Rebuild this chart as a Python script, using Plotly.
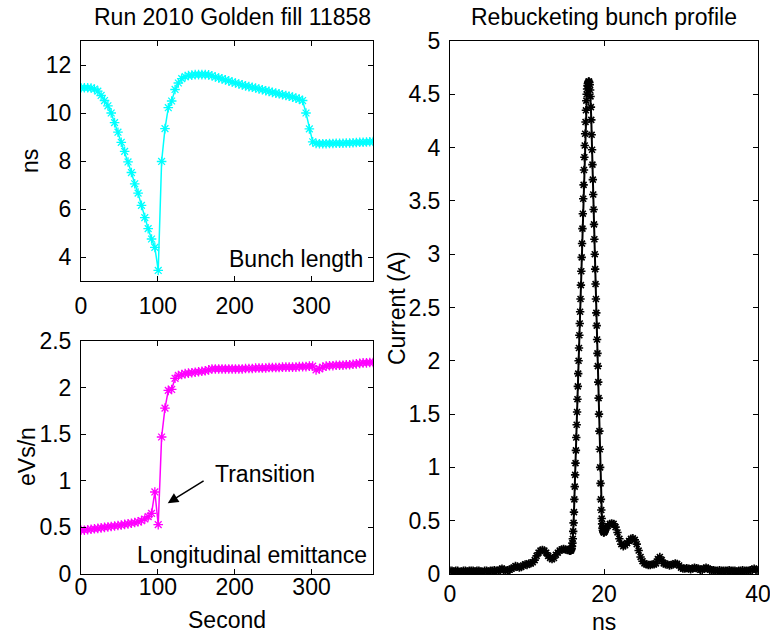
import plotly.graph_objects as go

# ---------------- data ----------------
time_s = [0.0, 4.4, 8.7, 13.1, 17.5, 21.9, 26.2, 30.6, 35.0, 39.3, 43.7, 48.1, 52.4, 56.8, 61.2,
          65.6, 69.9, 74.3, 78.7, 83.0, 87.4, 91.8, 96.1, 100.5, 104.9, 109.3, 113.6, 118.0,
          122.4, 126.7, 131.1, 135.5, 139.8, 144.2, 148.6, 153.0, 157.3, 161.7, 166.1, 170.4,
          174.8, 179.2, 183.5, 187.9, 192.3, 196.7, 201.0, 205.4, 209.8, 214.1, 218.5, 222.9,
          227.2, 231.6, 236.0, 240.4, 244.7, 249.1, 253.5, 257.8, 262.2, 266.6, 270.9, 275.3,
          279.7, 284.1, 288.4, 292.8, 297.2, 301.5, 305.9, 310.3, 314.6, 319.0, 323.4, 327.8,
          332.1, 336.5, 340.9, 345.2, 349.6, 354.0, 358.3, 362.7, 367.1, 371.5, 375.8, 380.2]

bunch_length_ns = [11.05, 11.05, 11.05, 11.04, 11.0, 10.91, 10.73, 10.52, 10.3, 10.0, 9.6, 9.2,
                   8.78, 8.4, 7.96, 7.52, 7.05, 6.66, 6.15, 5.64, 5.18, 4.75, 4.4, 3.44, 7.98,
                   9.35, 10.22, 10.5, 10.98, 11.25, 11.43, 11.52, 11.56, 11.58, 11.6, 11.6, 11.6,
                   11.6, 11.59, 11.55, 11.5, 11.46, 11.42, 11.38, 11.34, 11.29, 11.25, 11.21,
                   11.17, 11.13, 11.1, 11.07, 11.04, 11.0, 10.97, 10.93, 10.9, 10.86, 10.83, 10.8,
                   10.76, 10.73, 10.7, 10.66, 10.62, 10.58, 10.52, 10.0, 9.34, 8.8, 8.73, 8.72,
                   8.72, 8.72, 8.73, 8.73, 8.74, 8.74, 8.74, 8.75, 8.75, 8.76, 8.77, 8.78, 8.78,
                   8.79, 8.8, 8.81]

emittance_eVs = [0.47, 0.47, 0.475, 0.48, 0.485, 0.49, 0.495, 0.5, 0.505, 0.51, 0.515, 0.52,
                 0.525, 0.532, 0.538, 0.545, 0.552, 0.56, 0.572, 0.59, 0.615, 0.65, 0.88, 0.53,
                 1.47, 1.78, 1.97, 1.98, 2.1, 2.13, 2.14, 2.15, 2.155, 2.16, 2.165, 2.17, 2.175,
                 2.18, 2.19, 2.2, 2.2, 2.2, 2.2, 2.2, 2.2, 2.2, 2.2, 2.2, 2.2, 2.205, 2.205,
                 2.205, 2.21, 2.21, 2.21, 2.21, 2.215, 2.215, 2.215, 2.215, 2.22, 2.22, 2.22,
                 2.22, 2.22, 2.225, 2.225, 2.225, 2.23, 2.23, 2.19, 2.2, 2.22, 2.23, 2.235,
                 2.235, 2.24, 2.24, 2.24, 2.245, 2.245, 2.25, 2.255, 2.26, 2.265, 2.265, 2.27,
                 2.27]

# bunch profile: three sampled segments (baseline, peak, tail)
ns_base = [0.0, 0.25, 0.5, 0.75, 1.0, 1.25, 1.5, 1.75, 2.0, 2.25, 2.5, 2.75, 3.0, 3.25, 3.5,
           3.75, 4.0, 4.25, 4.5, 4.75, 5.0, 5.25, 5.5, 5.75, 6.0, 6.25, 6.5, 6.75, 7.0, 7.25,
           7.5, 7.75, 8.0, 8.25, 8.5, 8.75, 9.0, 9.25, 9.5, 9.75, 10.0, 10.25, 10.5, 10.75,
           11.0, 11.25, 11.5, 11.75, 12.0, 12.25, 12.5, 12.75, 13.0, 13.25, 13.5, 13.75, 14.0,
           14.25, 14.5, 14.75, 15.0, 15.25, 15.5]
amp_base = [0.03, 0.03, 0.025, 0.03, 0.03, 0.02, 0.025, 0.03, 0.03, 0.025, 0.03, 0.03, 0.03,
            0.025, 0.03, 0.03, 0.025, 0.02, 0.03, 0.03, 0.025, 0.03, 0.03, 0.035, 0.03, 0.03,
            0.04, 0.05, 0.04, 0.03, 0.035, 0.04, 0.05, 0.06, 0.075, 0.07, 0.06, 0.065, 0.08,
            0.09, 0.085, 0.1, 0.1, 0.11, 0.13, 0.17, 0.2, 0.22, 0.225, 0.22, 0.2, 0.17, 0.15,
            0.14, 0.15, 0.18, 0.2, 0.22, 0.23, 0.235, 0.23, 0.225, 0.22]

ns_peak = [15.55, 15.6, 15.65, 15.7, 15.75, 15.8, 15.85, 15.9, 15.95, 16.0, 16.05, 16.1, 16.15,
           16.2, 16.25, 16.3, 16.35, 16.4, 16.45, 16.5, 16.55, 16.6, 16.65, 16.7, 16.75, 16.8,
           16.85, 16.9, 16.95, 17.0, 17.05, 17.1, 17.15, 17.2, 17.25, 17.3, 17.35, 17.4, 17.45,
           17.5, 17.55, 17.6, 17.65, 17.7, 17.75, 17.8, 17.85, 17.9, 17.95, 18.0, 18.05, 18.1,
           18.15, 18.2, 18.25, 18.3, 18.35, 18.4, 18.45, 18.5, 18.55, 18.6, 18.65, 18.7, 18.75,
           18.8, 18.85, 18.9, 18.95, 19.0, 19.05, 19.1, 19.15, 19.2, 19.25, 19.3, 19.35, 19.4,
           19.45, 19.5, 19.55, 19.6, 19.65, 19.7, 19.75, 19.8, 19.85, 19.9, 19.95, 20.0, 20.05,
           20.1, 20.15, 20.2]
amp_peak = [0.22, 0.22, 0.225, 0.22, 0.23, 0.24, 0.26, 0.29, 0.33, 0.4, 0.48, 0.58, 0.7, 0.82,
            0.93, 1.04, 1.16, 1.28, 1.4, 1.52, 1.64, 1.76, 1.88, 2.0, 2.12, 2.24, 2.35, 2.46,
            2.58, 2.71, 2.84, 2.97, 3.1, 3.24, 3.38, 3.52, 3.65, 3.79, 3.91, 4.02, 4.13, 4.24,
            4.35, 4.44, 4.5, 4.55, 4.58, 4.6, 4.61, 4.62, 4.62, 4.61, 4.59, 4.54, 4.48, 4.38,
            4.26, 4.12, 3.98, 3.84, 3.7, 3.56, 3.42, 3.28, 3.14, 3.0, 2.86, 2.72, 2.58, 2.45,
            2.33, 2.2, 2.07, 1.95, 1.8, 1.65, 1.5, 1.34, 1.17, 1.0, 0.85, 0.7, 0.6, 0.52, 0.47,
            0.43, 0.41, 0.4, 0.39, 0.39, 0.4, 0.4, 0.41, 0.42]

ns_tail = [20.25, 20.5, 20.75, 21.0, 21.25, 21.5, 21.75, 22.0, 22.25, 22.5, 22.75, 23.0, 23.25,
           23.5, 23.75, 24.0, 24.25, 24.5, 24.75, 25.0, 25.25, 25.5, 25.75, 26.0, 26.25, 26.5,
           26.75, 27.0, 27.25, 27.5, 27.75, 28.0, 28.25, 28.5, 28.75, 29.0, 29.25, 29.5, 29.75,
           30.0, 30.25, 30.5, 30.75, 31.0, 31.25, 31.5, 31.75, 32.0, 32.25, 32.5, 32.75, 33.0,
           33.25, 33.5, 33.75, 34.0, 34.25, 34.5, 34.75, 35.0, 35.25, 35.5, 35.75, 36.0, 36.25,
           36.5, 36.75, 37.0, 37.25, 37.5, 37.75, 38.0, 38.25, 38.5, 38.75, 39.0, 39.25, 39.5,
           39.75, 40.0]
amp_tail = [0.43, 0.45, 0.47, 0.475, 0.47, 0.44, 0.39, 0.33, 0.28, 0.26, 0.27, 0.29, 0.31, 0.33,
            0.335, 0.32, 0.28, 0.22, 0.16, 0.12, 0.1, 0.09, 0.085, 0.085, 0.09, 0.09, 0.1, 0.14,
            0.16, 0.13, 0.1, 0.09, 0.09, 0.08, 0.085, 0.09, 0.1, 0.095, 0.08, 0.06, 0.05, 0.05,
            0.055, 0.05, 0.045, 0.05, 0.06, 0.055, 0.05, 0.04, 0.04, 0.05, 0.06, 0.05, 0.04,
            0.035, 0.035, 0.03, 0.03, 0.035, 0.03, 0.03, 0.03, 0.03, 0.035, 0.03, 0.03, 0.03,
            0.025, 0.03, 0.03, 0.035, 0.03, 0.03, 0.03, 0.035, 0.04, 0.05, 0.04, 0.035]

top_yticks = [4, 6, 8, 10, 12]
bot_yticks = [0, 0.5, 1, 1.5, 2, 2.5]
bot_yticklabels = ["0", "0.5", "1", "1.5", "2", "2.5"]
right_yticks = [0, 0.5, 1, 1.5, 2, 2.5, 3, 3.5, 4, 4.5, 5]
right_yticklabels = ["0", "0.5", "1", "1.5", "2", "2.5", "3", "3.5", "4", "4.5", "5"]
left_xticks = [0, 100, 200, 300]
right_xticks = [0, 20, 40]

# ---------------- figure ----------------
W, H = 770, 634
FONT = "Liberation Sans, Arial, Helvetica, sans-serif"
FS = 23

def px(x):
    return x / W

def py(y):
    return 1 - y / H

fig = go.Figure()

fig.add_trace(go.Scatter(
    x=time_s, y=bunch_length_ns, mode="lines+markers", xaxis="x", yaxis="y",
    line=dict(color="#00FFFF", width=1.5),
    marker=dict(symbol="asterisk-open", size=8, color="#00FFFF", line=dict(color="#00FFFF", width=1.3)),
    showlegend=False))

fig.add_trace(go.Scatter(
    x=time_s, y=emittance_eVs, mode="lines+markers", xaxis="x2", yaxis="y2",
    line=dict(color="#FF00FF", width=1.5),
    marker=dict(symbol="asterisk-open", size=8, color="#FF00FF", line=dict(color="#FF00FF", width=1.3)),
    showlegend=False))

fig.add_trace(go.Scatter(
    x=ns_base + ns_peak + ns_tail, y=amp_base + amp_peak + amp_tail,
    mode="lines+markers", xaxis="x3", yaxis="y3",
    line=dict(color="black", width=2),
    marker=dict(symbol="asterisk-open", size=7, color="black", line=dict(color="black", width=1.6)),
    showlegend=False))

axis_common = dict(showline=True, linecolor="black", linewidth=1, mirror="ticks",
                   ticks="inside", ticklen=5, tickwidth=1, tickcolor="black",
                   showgrid=False, zeroline=False, automargin=False,
                   ticklabeloverflow="allow",
                   tickfont=dict(family=FONT, size=FS, color="black"))

fig.update_layout(
    width=W, height=H, margin=dict(l=0, r=0, t=0, b=0, autoexpand=False),
    paper_bgcolor="white", plot_bgcolor="white",
    font=dict(family=FONT, size=FS, color="black"),
    xaxis=dict(domain=[px(81), px(373)], range=[0, 380], tickvals=left_xticks,
               anchor="y", ticklabelstandoff=4, **axis_common),
    yaxis=dict(domain=[py(281), py(41)], range=[3, 13], tickvals=top_yticks,
               anchor="x", ticklabelstandoff=4, **axis_common),
    xaxis2=dict(domain=[px(81), px(373)], range=[0, 380], tickvals=left_xticks,
                anchor="y2", ticklabelstandoff=-8, **axis_common),
    yaxis2=dict(domain=[py(574), py(341)], range=[0, 2.5], tickvals=bot_yticks,
                ticktext=bot_yticklabels, anchor="x2", ticklabelstandoff=4, **axis_common),
    xaxis3=dict(domain=[px(450), px(758)], range=[0, 40], tickvals=right_xticks,
                anchor="y3", ticklabelstandoff=-1, **axis_common),
    yaxis3=dict(domain=[py(574), py(41)], range=[0, 5], tickvals=right_yticks,
                ticktext=right_yticklabels, anchor="x3", ticklabelstandoff=4, **axis_common),
)

def label(text, x, y, angle=0, xanchor="center", yanchor="middle"):
    fig.add_annotation(text=text, x=px(x), y=py(y), xref="paper", yref="paper",
                       showarrow=False, textangle=angle, xanchor=xanchor, yanchor=yanchor,
                       font=dict(family=FONT, size=FS, color="black"))

label("Run 2010 Golden fill 11858", 232, 17)
label("Rebucketing bunch profile", 604, 17)
label("ns", 30, 161, angle=-90)
label("eVs/n", 27, 457, angle=-90)
label("Current (A)", 397, 308, angle=-90)
label("Second", 227, 620)
label("ns", 604, 622)
label("Bunch length", 365, 259, xanchor="right")
label("Longitudinal emittance", 369, 555, xanchor="right")
label("Transition", 213, 474, xanchor="left")

# arrow pointing to transition
fig.add_annotation(x=112.9, y=0.76, ax=161.5, ay=1.01, xref="x2", yref="y2",
                   axref="x2", ayref="y2", showarrow=True, arrowhead=2, arrowsize=1.4,
                   arrowwidth=1.5, arrowcolor="black", text="")

fig.write_html("out.html")
